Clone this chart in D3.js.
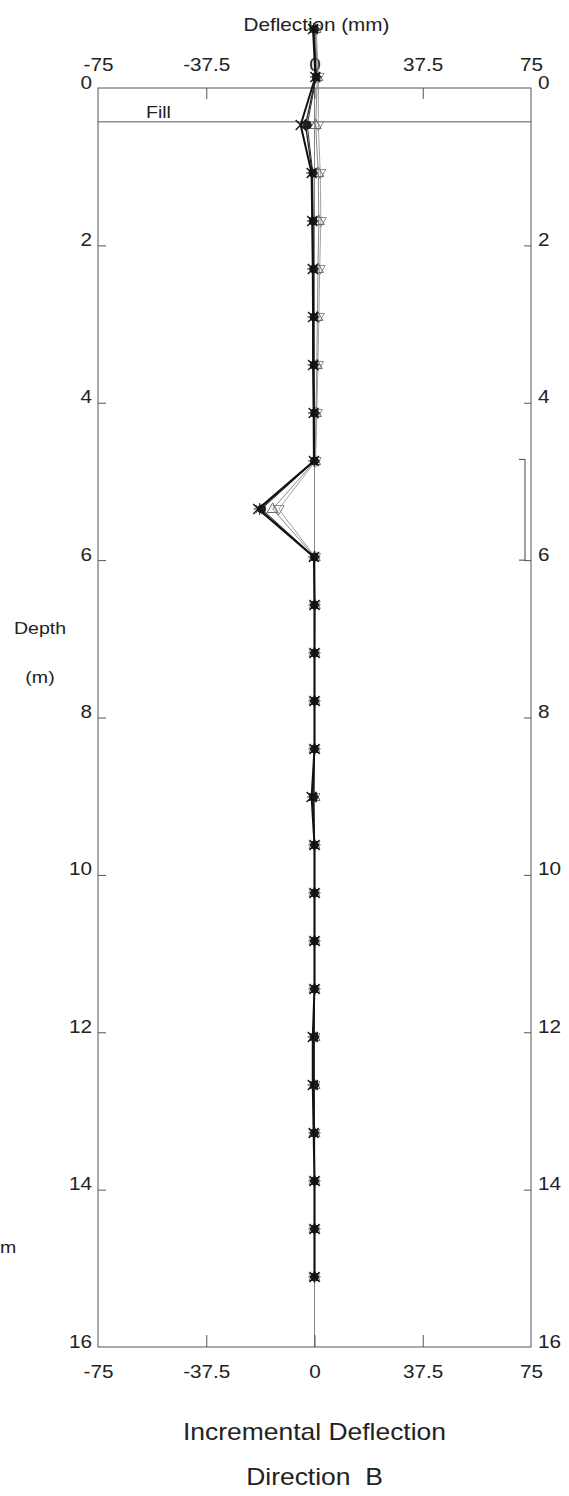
<!DOCTYPE html>
<html>
<head>
<meta charset="utf-8">
<script src="https://cdn.jsdelivr.net/npm/d3@7/dist/d3.min.js"></script>
<style>
  body { margin: 0; background: #fff; }
  svg text { font-family: "Liberation Sans", Arial, sans-serif; fill: #222; }
</style>
</head>
<body>
<svg id="chart" width="569" height="1496"></svg>
<script>
// Reading depths (m), 2 ft spacing
const depths = [-0.75, -0.14, 0.47, 1.08, 1.69, 2.30, 2.91, 3.52, 4.13, 4.74, 5.35, 5.96,
  6.57, 7.18, 7.79, 8.40, 9.01, 9.62, 10.23, 10.84, 11.45, 12.06, 12.67, 13.28, 13.89, 14.50, 15.11];

// Incremental deflection (mm) for each reading set
const setA = [-0.5, 0.3, -4.8, -1.0, -0.8, -0.6, -0.5, -0.5, -0.3, -0.2, -19.5, -0.2,
  0, 0, 0, 0, -1.0, 0, 0, 0, 0, -0.6, -0.6, -0.3, 0, 0, 0];
const setB = [-0.3, 0.5, -3.1, -0.8, -0.6, -0.5, -0.4, -0.3, -0.2, -0.1, -19.0, -0.1,
  0, 0, 0, 0, -0.5, 0, 0, 0, 0, -0.3, -0.3, 0, 0, 0, 0];
const setC = [0, 0.6, -2.5, -0.6, -0.5, -0.3, -0.2, -0.2, 0, 0, -18.3, 0,
  0, 0, 0, 0, -0.3, 0, 0, 0, 0, 0, 0, 0, 0, 0, 0];
const setD = [0.3, 1.0, 0.4, 1.3, 1.5, 1.2, 1.0, 0.8, 0.5, 0.2, -14.5, 0.1,
  0.1, 0, 0, 0, 0, 0, 0, 0, 0, 0, 0, 0, 0, 0, 0];
const setE = [0.6, 1.4, 1.3, 2.0, 2.2, 1.8, 1.5, 1.2, 0.8, 0.4, -12.4, 0.2,
  0.1, 0, 0, 0, 0, 0, 0, 0, 0, 0, 0, 0, 0, 0, 0];

const deflTicks = [-75, -37.5, 0, 37.5, 75];
const deflInnerTicks = [-37.5, 0, 37.5];
const depthTicks = [0, 2, 4, 6, 8, 10, 12, 14, 16];
const depthInnerTicks = [2, 4, 6, 8, 10, 12, 14];

const fillDepth = 0.43;
const zoneTop = 4.72, zoneBottom = 6.0;

const svg = d3.select("#chart");
svg.append("rect").attr("width", 569).attr("height", 1496).attr("fill", "#fff");

const x = d3.scaleLinear().domain([-75, 75]).range([98, 531]);
const y = d3.scaleLinear().domain([0, 16]).range([88, 1347]);

const frameColor = "#555";
const tickFont = 18;
const wide = 1.15; // the lettering is set a little wider than the face's natural width

// move a text's x/y into a transform so it can be widened about its anchor
function widen(sel, sx) {
  sel.each(function () {
    const t = d3.select(this);
    const tx = +t.attr("x") || 0, ty = +t.attr("y") || 0;
    t.attr("x", 0).attr("y", 0).attr("transform", `translate(${tx},${ty}) scale(${sx},1)`);
  });
  return sel;
}

function label(px, py, size, str, anchor) {
  const t = svg.append("text").attr("x", px).attr("y", py)
    .attr("font-size", size).attr("text-anchor", anchor || "start")
    .attr("xml:space", "preserve").text(str);
  return widen(t, wide);
}

// plot frame
svg.append("rect")
  .attr("x", x(-75)).attr("y", y(0))
  .attr("width", x(75) - x(-75)).attr("height", y(16) - y(0))
  .attr("fill", "none").attr("stroke", frameColor).attr("stroke-width", 1);

// zero reference
svg.append("line")
  .attr("x1", x(0)).attr("x2", x(0)).attr("y1", y(0)).attr("y2", y(16))
  .attr("stroke", "#666").attr("stroke-width", 0.8);

// fill boundary
svg.append("line")
  .attr("x1", x(-75)).attr("x2", x(75)).attr("y1", y(fillDepth)).attr("y2", y(fillDepth))
  .attr("stroke", frameColor).attr("stroke-width", 1);
label(146, y(fillDepth) - 4, 17, "Fill");

function styleAxis(g) {
  g.select(".domain").remove();
  g.selectAll(".tick line").attr("stroke", frameColor);
  g.selectAll(".tick text").attr("font-size", tickFont).attr("fill", "#222")
    .attr("font-family", '"Liberation Sans", Arial, sans-serif');
}

// depth axis, left
const axisL = svg.append("g").attr("transform", `translate(${x(-75)},0)`)
  .call(d3.axisLeft(y).tickValues(depthTicks).tickSize(-8).tickPadding(6).tickFormat(d3.format("d")));
styleAxis(axisL);
axisL.selectAll(".tick text").attr("dy", 0);
widen(axisL.selectAll(".tick text"), wide);
axisL.selectAll(".tick line").filter(d => !depthInnerTicks.includes(d)).remove();

// depth axis, right
const axisR = svg.append("g").attr("transform", `translate(${x(75)},0)`)
  .call(d3.axisRight(y).tickValues(depthTicks).tickSize(-7).tickPadding(7).tickFormat(d3.format("d")));
styleAxis(axisR);
axisR.selectAll(".tick text").attr("dy", 0);
widen(axisR.selectAll(".tick text"), wide);
axisR.selectAll(".tick line").filter(d => !depthInnerTicks.includes(d)).remove();

// deflection axis, top
const axisT = svg.append("g").attr("transform", `translate(0,${y(0)})`)
  .call(d3.axisTop(x).tickValues(deflTicks).tickSize(-11).tickPadding(17).tickFormat(d => String(d)));
styleAxis(axisT);
widen(axisT.selectAll(".tick text"), wide);
axisT.selectAll(".tick line").filter(d => !deflInnerTicks.includes(d)).remove();

// deflection axis, bottom
const axisB = svg.append("g").attr("transform", `translate(0,${y(16)})`)
  .call(d3.axisBottom(x).tickValues(deflTicks).tickSize(-12).tickPadding(18).tickFormat(d => String(d)));
styleAxis(axisB);
widen(axisB.selectAll(".tick text"), wide);
axisB.selectAll(".tick line").filter(d => !deflInnerTicks.includes(d)).remove();

// movement zone bracket
const bx = x(75) - 6;
svg.append("path")
  .attr("d", `M${bx - 6},${y(zoneTop)}H${bx}V${y(zoneBottom)}H${bx - 6}`)
  .attr("fill", "none").attr("stroke", "#444").attr("stroke-width", 1);

// titles
label(x(0) + 2, 31, 18, "Deflection (mm)", "middle");
label(40, 634, 17, "Depth", "middle");
label(40, 683, 17, "(m)", "middle");
label(0, 1253, 17, "m");
label(x(0), 1440, 23, "Incremental Deflection", "middle");
label(x(0), 1485, 23, "Direction  B", "middle");

// reading sets
const sets = [
  { values: setE, color: "#8a8a8a", width: 0.8, marker: "triDown" },
  { values: setD, color: "#6a6a6a", width: 0.8, marker: "triUp" },
  { values: setC, color: "#333", width: 1.0, marker: "circle" },
  { values: setB, color: "#222", width: 1.3, marker: "aster" },
  { values: setA, color: "#111", width: 2.0, marker: "cross" }
];

const line = d3.line().x(d => x(d[0])).y(d => y(d[1]));

const markerPath = {
  cross: "M-5,-5L5,5M-5,5L5,-5",
  aster: "M-6,0H6M0,-6V6M-4,-4L4,4M-4,4L4,-4",
  triUp: "M0,-6L5.5,3.5L-5.5,3.5Z",
  triDown: "M0,6L5.5,-3.5L-5.5,-3.5Z"
};

sets.forEach(s => {
  const pts = depths.map((d, i) => [s.values[i], d]);
  svg.append("path").datum(pts)
    .attr("d", line).attr("fill", "none")
    .attr("stroke", s.color).attr("stroke-width", s.width).attr("stroke-linejoin", "round");
  const g = svg.append("g");
  pts.forEach(p => {
    const cx = x(p[0]), cy = y(p[1]);
    if (s.marker === "circle") {
      g.append("circle").attr("cx", cx).attr("cy", cy).attr("r", 4)
        .attr("fill", "#1a1a1a").attr("stroke", "#1a1a1a").attr("stroke-width", 0.8);
    } else {
      g.append("path").attr("d", markerPath[s.marker])
        .attr("transform", `translate(${cx},${cy})`)
        .attr("fill", "none").attr("stroke", s.color)
        .attr("stroke-width", s.marker === "cross" ? 1.3 : 1.0);
    }
  });
});
</script>
</body>
</html>
